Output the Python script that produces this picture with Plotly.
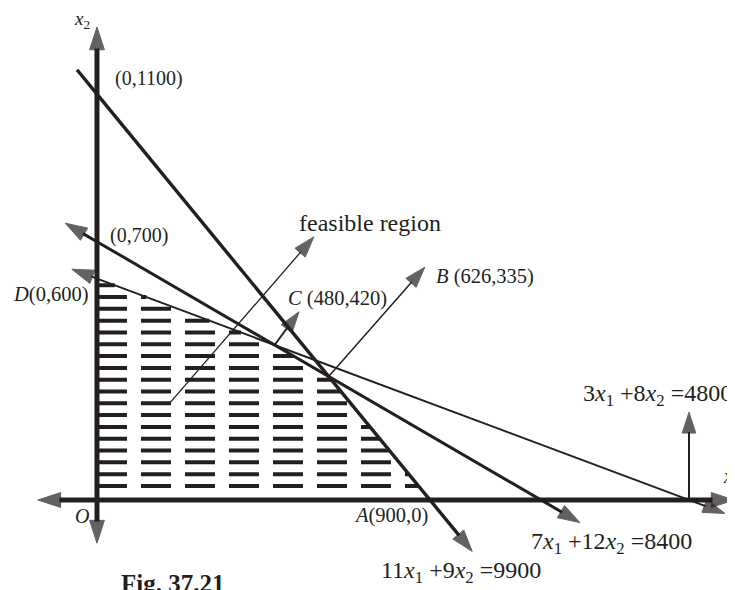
import plotly.graph_objects as go

INK = "#231f20"
FONT = "Liberation Serif, Times New Roman, serif"

# ---- constraint lines  a1*x1 + a2*x2 = b ----
coef_x1 = [11, 7, 3]
coef_x2 = [9, 12, 8]
rhs = [9900, 8400, 4800]
eq_labels = [
    "11<i>x</i><sub>1</sub> +9<i>x</i><sub>2</sub> =9900",
    "7<i>x</i><sub>1</sub> +12<i>x</i><sub>2</sub> =8400",
    "3<i>x</i><sub>1</sub> +8<i>x</i><sub>2</sub> =4800",
]
# x1 value at the two drawn ends of every line
line_x1_start = [-54, -86, -68]
line_x1_end = [1014, 1305, 1697]
line_start_arrow = [False, True, True]
line_widths = [3.4, 3.0, 2.0]

# ---- corner points of the feasible region ----
corner_names = ["O", "A", "B", "C", "D"]
corner_x1 = [0, 900, 626, 480, 0]
corner_x2 = [0, 0, 335, 420, 600]

# ---- axes extents (data units) ----
axis_x1_ext = [-160, 1722]
axis_x2_ext = [-117, 1282]

# ---- pointer arrows: tail -> head ----
ptr_names = ["feasible", "C", "B", "eq3"]
ptr_tail_x1 = [197, 480, 626, 1600]
ptr_tail_x2 = [263, 420, 335, 0]
ptr_head_x1 = [586, 546, 886, 1600]
ptr_head_x2 = [713, 510, 631, 238]
ptr_widths = [1.3, 2.0, 1.5, 2.0]

# view window (page has an 8px body margin)
X_RANGE = [-240.5, 1745.9]
Y_RANGE = [-265.6, 1333.3]

fig = go.Figure()

# ---- hatching of the feasible region (fill pattern) ----
HATCH_Y0, HATCH_STEP, HATCH_N = 38, 32, 18
for k in range(HATCH_N):
    yv = HATCH_Y0 + HATCH_STEP * k
    xe = min((b - a2 * yv) / a1 for a1, a2, b in zip(coef_x1, coef_x2, rhs))
    fig.add_trace(go.Scatter(
        x=[0, xe], y=[yv, yv], mode="lines",
        line=dict(color=INK, width=4, dash="30px,14px"),
        hoverinfo="skip", showlegend=False))


def seg(x0, y0, x1, y1, width, head=True, size=23):
    fig.add_trace(go.Scatter(
        x=[x0, x1], y=[y0, y1],
        mode="lines+markers" if head else "lines",
        line=dict(color=INK, width=width),
        marker=dict(symbol="arrow", size=[0, size], angleref="previous",
                    color=INK, line=dict(width=1, color=INK)),
        hoverinfo="skip", showlegend=False))


# axes
seg(0, 0, axis_x1_ext[1], 0, 5, size=24)
seg(0, 0, axis_x1_ext[0], 0, 5, size=24)
seg(0, 0, 0, axis_x2_ext[1], 5, size=24)
seg(0, 0, 0, axis_x2_ext[0], 5, size=24)

# constraint lines
for a1, a2, b, xs, xe, sa, w in zip(coef_x1, coef_x2, rhs, line_x1_start,
                                     line_x1_end, line_start_arrow, line_widths):
    ys = (b - a1 * xs) / a2
    ye = (b - a1 * xe) / a2
    ym = b / a2  # crossing of the x2 axis
    seg(0, ym, xe, ye, w)
    seg(0, ym, xs, ys, w, head=sa)

# pointer arrows
for tx, ty, hx, hy, w in zip(ptr_tail_x1, ptr_tail_x2, ptr_head_x1, ptr_head_x2, ptr_widths):
    seg(tx, ty, hx, hy, w, size=22)

# ---- texts ----
labels = [
    ("(0,1100)", 43, 1141, 20),
    ("(0,700)", 30, 718, 20),
    ("<i>D</i>(0,600)", -232, 556, 20.5),
    ("feasible region", 540, 751, 24),
    ("<i>C</i> (480,420)", 511, 547, 20.5),
    ("<i>B</i> (626,335)", 911, 607, 20.5),
    (eq_labels[2], 1309, 285, 24),
    (eq_labels[1], 1168, -117, 24),
    (eq_labels[0], 763, -195, 24),
    ("<i>A</i>(900,0)", 690, -43, 20.5),
    ("<i>O</i>", -66, -44, 20),
    ("<i>x</i><sub>2</sub>", -67, 1300, 19),
    ("<i>x</i><sub>1</sub>", 1686, 60, 20),
    ("<b>Fig. 37.21</b>", 60, -225, 25),
]
for txt, lx, ly, fs in labels:
    fig.add_annotation(x=lx, y=ly, xref="x", yref="y", text=txt, showarrow=False,
                       xanchor="left", yanchor="middle",
                       font=dict(family=FONT, size=fs, color=INK))

fig.update_layout(
    width=735, height=590,
    margin=dict(l=0, r=0, t=0, b=0, pad=0),
    paper_bgcolor="white", plot_bgcolor="white",
    showlegend=False,
    xaxis=dict(range=X_RANGE, visible=False, fixedrange=True),
    yaxis=dict(range=Y_RANGE, visible=False, fixedrange=True),
)
fig.write_html("out.html")
